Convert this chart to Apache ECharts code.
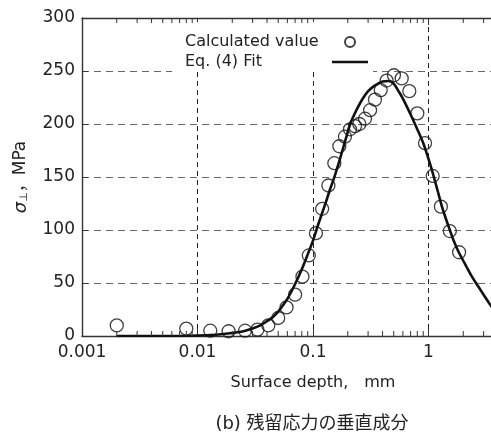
<!DOCTYPE html>
<html>
<head>
<meta charset="utf-8">
<script src="https://cdn.jsdelivr.net/npm/echarts@6/dist/echarts.min.js"></script>
<style>
  html, body { margin: 0; padding: 0; background: #fff; }
  #chart { width: 491px; height: 432px; }
</style>
</head>
<body>
<div id="chart"></div>
<script>
// calculated values (circles)
const calcDepth = [0.002, 0.008, 0.0129, 0.0186, 0.0258, 0.033, 0.041, 0.050, 0.059, 0.070,
  0.081, 0.092, 0.106, 0.120, 0.136, 0.153, 0.169, 0.189, 0.209, 0.231,
  0.252, 0.282, 0.312, 0.344, 0.386, 0.434, 0.502, 0.586, 0.682, 0.800,
  0.933, 1.087, 1.28, 1.53, 1.84];
const calcSigma = [10, 7, 5, 4.5, 5, 6, 10, 17, 27, 39,
  56, 76, 97, 120, 142, 163, 179, 188, 195, 198,
  200, 205, 213, 223, 232, 241, 246, 243, 231, 210,
  182, 151, 122, 99, 79];

// Eq. (4) fit (line)
const fitDepth = [0.002, 0.005, 0.008, 0.01, 0.013, 0.016, 0.02, 0.025, 0.03, 0.035,
  0.04, 0.045, 0.05, 0.055, 0.06, 0.065, 0.07, 0.08, 0.09, 0.1,
  0.11, 0.12, 0.13, 0.14, 0.15, 0.17, 0.19, 0.21, 0.24, 0.27,
  0.3, 0.34, 0.4, 0.45, 0.5, 0.55, 0.6, 0.7, 0.8, 0.9,
  1.0, 1.1, 1.2, 1.3, 1.4, 1.53, 1.65, 1.81, 2.0, 2.14,
  2.35, 2.61, 3.0, 3.4, 3.8];
const fitSigma = [0, 0, 0.2, 0.5, 1, 1.7, 2.8, 4.5, 7, 10,
  14, 18, 23, 29, 35, 42, 49, 63, 77, 90,
  104, 116, 127, 138, 147, 166, 184, 200, 214, 224,
  231, 236, 240, 240.5, 238, 231, 224, 209, 195, 182,
  167, 152, 137, 123, 112, 100, 90, 80, 71, 65,
  57, 49, 39, 30, 23];

// minor tick positions of the log axis
const minorTicks = [0.002, 0.003, 0.004, 0.005, 0.006, 0.007, 0.008, 0.009,
  0.02, 0.03, 0.04, 0.05, 0.06, 0.07, 0.08, 0.09,
  0.2, 0.3, 0.4, 0.5, 0.6, 0.7, 0.8, 0.9,
  2, 3, 4, 5, 6, 7, 8, 9];

const FONT = '"DejaVu Sans", "Noto Sans CJK JP", sans-serif';
const chart = echarts.init(document.getElementById('chart'));

const axisLineStyle = { color: '#333', width: 1.4 };

const option = {
  animation: false,
  backgroundColor: '#fff',
  grid: { left: 82, top: 18, width: 462, height: 318, containLabel: false, outerBoundsMode: 'none' },
  legend: {
    orient: 'vertical',
    left: 172,
    top: 22,
    align: 'right',
    backgroundColor: '#fff',
    padding: [12, 5, 2, 13],
    itemGap: 4,
    itemWidth: 36,
    itemHeight: 10,
    data: [
      { name: 'Calculated value', icon: 'circle' },
      { name: 'Eq. (4) Fit', icon: 'path://M0,0 L36,0 L36,2.6 L0,2.6 Z', itemStyle: { color: '#111' } }
    ],
    formatter: function (name) { return '{a|' + name + '}'; },
    textStyle: {
      fontFamily: FONT,
      fontSize: 16,
      color: '#222',
      rich: { a: { width: 142, align: 'left', fontFamily: FONT, fontSize: 16, color: '#222', lineHeight: 19 } }
    }
  },
  graphic: [{
    type: 'text',
    x: 312,
    y: 424,
    style: {
      text: '(b) 残留応力の垂直成分',
      fontFamily: FONT,
      fontSize: 18,
      fill: '#222',
      align: 'center',
      verticalAlign: 'middle'
    }
  }],
  xAxis: [{
    type: 'log',
    logBase: 10,
    min: 0.001,
    max: 10,
    position: 'bottom',
    name: 'Surface depth,\u3000mm',
    nameLocation: 'middle',
    nameGap: 39,
    nameTextStyle: { fontFamily: FONT, fontSize: 16, color: '#222' },
    axisLine: { lineStyle: axisLineStyle },
    axisTick: { inside: true, length: 7, lineStyle: { color: '#333' } },
    axisLabel: { fontFamily: FONT, fontSize: 17, color: '#222', margin: 8 },
    splitLine: { show: true, lineStyle: { color: '#222', type: [5, 4], width: 1 } }
  }, {
    type: 'log',
    logBase: 10,
    min: 0.001,
    max: 10,
    position: 'top',
    axisLine: { lineStyle: axisLineStyle },
    axisTick: { inside: true, length: 7, lineStyle: { color: '#333' } },
    axisLabel: { show: false },
    splitLine: { show: false }
  }],
  yAxis: {
    type: 'value',
    min: 0,
    max: 300,
    interval: 50,
    name: '{s|σ}{sub|⊥}{t|，MPa}',
    nameLocation: 'middle',
    nameGap: 52,
    nameTextStyle: {
      fontFamily: FONT,
      fontSize: 17,
      color: '#222',
      rich: {
        s: { fontFamily: FONT, fontSize: 18, fontStyle: 'italic', color: '#222' },
        sub: { fontFamily: FONT, fontSize: 11, color: '#222', verticalAlign: 'bottom', padding: [6, 0, 0, 0] },
        t: { fontFamily: FONT, fontSize: 17, color: '#222' }
      }
    },
    axisLine: { show: true, lineStyle: axisLineStyle },
    axisTick: { inside: true, length: 6, lineStyle: { color: '#333' } },
    axisLabel: { fontFamily: FONT, fontSize: 17, color: '#222', margin: 7 },
    splitLine: { show: true, lineStyle: { color: '#666', type: [7, 5], width: 1 } }
  },
  series: [{
    name: 'Calculated value',
    type: 'scatter',
    symbol: 'circle',
    symbolSize: 13,
    itemStyle: { color: 'rgba(255,255,255,0)', borderColor: '#111', borderWidth: 1.3 },
    data: calcDepth.map((d, i) => [d, calcSigma[i]]),
    z: 3
  }, {
    name: 'Eq. (4) Fit',
    type: 'line',
    symbol: 'none',
    smooth: 0.3,
    lineStyle: { color: '#111', width: 2.6 },
    itemStyle: { color: '#111' },
    data: fitDepth.map((d, i) => [d, fitSigma[i]]),
    z: 4
  }, {
    // minor ticks on bottom and top of the log axis
    type: 'custom',
    silent: true,
    data: minorTicks.map(v => [v, 0]),
    renderItem: function (params, api) {
      const v = api.value(0);
      const b = api.coord([v, 0]);
      const t = api.coord([v, 300]);
      const st = { stroke: '#333', lineWidth: 1 };
      return {
        type: 'group',
        children: [
          { type: 'line', shape: { x1: b[0], y1: b[1], x2: b[0], y2: b[1] - 5 }, style: st },
          { type: 'line', shape: { x1: t[0], y1: t[1], x2: t[0], y2: t[1] + 5 }, style: st }
        ]
      };
    },
    z: 5
  }]
};

chart.setOption(option);
</script>
</body>
</html>
